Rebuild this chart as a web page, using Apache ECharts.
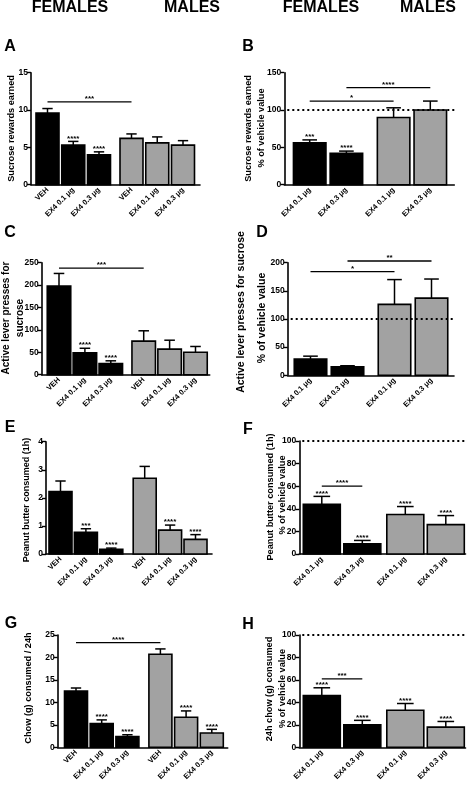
<!DOCTYPE html>
<html><head><meta charset="utf-8">
<script src="https://cdn.jsdelivr.net/npm/echarts@6/dist/echarts.min.js"></script>
<style>html,body{margin:0;padding:0;background:#fff}#c{width:472px;height:789px}</style>
</head><body><div id="c"></div>
<script>
// ---------- data ----------
const cats6 = ['VEH', 'EX4 0.1 μg', 'EX4 0.3 μg', 'VEH', 'EX4 0.1 μg', 'EX4 0.3 μg'];
const sex6 = ['F', 'F', 'F', 'M', 'M', 'M'];
const cats4 = ['EX4 0.1 μg', 'EX4 0.3 μg', 'EX4 0.1 μg', 'EX4 0.3 μg'];
const sex4 = ['F', 'F', 'M', 'M'];

// A: Sucrose rewards earned
const aMean = [9.6, 5.3, 4.0, 6.2, 5.6, 5.3];
const aErr = [0.6, 0.5, 0.4, 0.6, 0.8, 0.6];
const aStars = ['', '****', '****', '', '', ''];
const aSig = [[0, 3, 11.1, '***']];
const aTicks = [0, 5, 10, 15];

// B: Sucrose rewards % of vehicle
const bMean = [56, 42, 90, 100];
const bErr = [4, 3, 13, 12];
const bStars = ['***', '****', '', ''];
const bSig = [[0, 2, 112, '*'], [1, 3, 130, '****']];
const bTicks = [0, 50, 100, 150];

// C: Active lever presses
const cMean = [198, 49, 25, 75, 57, 50];
const cErr = [28, 10, 6, 23, 20, 13];
const cStars = ['', '****', '****', '', '', ''];
const cSig = [[0, 3, 238, '***']];
const cTicks = [0, 50, 100, 150, 200, 250];

// D: Active lever presses % of vehicle
const dMean = [29, 15, 126, 137];
const dErr = [5, 2, 44, 34];
const dStars = ['', '', '', ''];
const dSig = [[0, 2, 184, '*'], [1, 3, 203, '**']];
const dTicks = [0, 50, 100, 150, 200];

// E: Peanut butter consumed (1h)
const eMean = [2.22, 0.77, 0.17, 2.70, 0.85, 0.52];
const eErr = [0.38, 0.13, 0.04, 0.42, 0.18, 0.17];
const eStars = ['', '***', '****', '', '****', '****'];
const eSig = [];
const eTicks = [0, 1, 2, 3, 4];

// F: Peanut butter % of vehicle
const fMean = [44, 9, 35, 26];
const fErr = [7, 3, 7, 8];
const fStars = ['****', '****', '****', '****'];
const fSig = [[0, 1, 60, '****']];
const fTicks = [0, 20, 40, 60, 80, 100];

// G: Chow consumed / 24h
const gMean = [12.5, 5.3, 2.4, 20.7, 6.7, 3.2];
const gErr = [0.7, 0.8, 0.4, 1.2, 1.4, 0.8];
const gStars = ['', '****', '****', '', '****', '****'];
const gSig = [[0, 3, 23.3, '****']];
const gTicks = [0, 5, 10, 15, 20, 25];

// H: 24h chow % of vehicle
const hMean = [46, 20, 33, 18];
const hErr = [7, 4, 6, 5];
const hStars = ['****', '****', '****', '****'];
const hSig = [[0, 1, 61, '***']];
const hTicks = [0, 20, 40, 60, 80, 100];

// ---------- layout / style ----------
const FONT = '"Liberation Sans", Arial, sans-serif';
const GREY = '#a2a2a2';
const L = {
  A: {left: 31, top: 72.7, width: 169, height: 112, first: 16.5, step: 25.75, gap: 6.75, bw: 23},
  B: {left: 284.3, top: 72.7, width: 170, height: 112, first: 25.4, step: 36.7, gap: 10.5, bw: 32.5},
  C: {left: 41.7, top: 262.7, width: 168, height: 112, first: 17.3, step: 25.9, gap: 7, bw: 23.5},
  D: {left: 287.7, top: 262.7, width: 166.3, height: 112.6, first: 22.8, step: 37, gap: 10, bw: 32.5},
  E: {left: 46, top: 441.7, width: 166, height: 112.3, first: 14.5, step: 25.4, gap: 8, bw: 23},
  F: {left: 299.3, top: 441, width: 166.2, height: 113, first: 22.5, step: 40.5, gap: 2.5, bw: 37},
  G: {left: 57.7, top: 635, width: 170, height: 112.3, first: 18.3, step: 25.7, gap: 7.3, bw: 23},
  H: {left: 299.3, top: 635, width: 166.2, height: 112.3, first: 22.5, step: 40.5, gap: 2.5, bw: 37}
};

const panels = [
  {id: 'A', cats: cats6, sex: sex6, mean: aMean, err: aErr, stars: aStars, sig: aSig, ticks: aTicks, ref: null},
  {id: 'B', cats: cats4, sex: sex4, mean: bMean, err: bErr, stars: bStars, sig: bSig, ticks: bTicks, ref: 100},
  {id: 'C', cats: cats6, sex: sex6, mean: cMean, err: cErr, stars: cStars, sig: cSig, ticks: cTicks, ref: null},
  {id: 'D', cats: cats4, sex: sex4, mean: dMean, err: dErr, stars: dStars, sig: dSig, ticks: dTicks, ref: 100},
  {id: 'E', cats: cats6, sex: sex6, mean: eMean, err: eErr, stars: eStars, sig: eSig, ticks: eTicks, ref: null},
  {id: 'F', cats: cats4, sex: sex4, mean: fMean, err: fErr, stars: fStars, sig: fSig, ticks: fTicks, ref: 100},
  {id: 'G', cats: cats6, sex: sex6, mean: gMean, err: gErr, stars: gStars, sig: gSig, ticks: gTicks, ref: null},
  {id: 'H', cats: cats4, sex: sex4, mean: hMean, err: hErr, stars: hStars, sig: hSig, ticks: hTicks, ref: 100}
];

const grid = [], xAxis = [], yAxis = [], series = [];

panels.forEach((p, i) => {
  const l = L[p.id];
  const gapU = l.gap / l.step;
  const xs = p.cats.map((c, j) => j + (p.sex[j] === 'M' ? gapU : 0));
  const xmin = -l.first / l.step;
  const xmax = (l.width - l.first) / l.step;
  const bwU = l.bw / l.step;
  grid.push({left: l.left, top: l.top, width: l.width, height: l.height, outerBoundsMode: 'none'});
  xAxis.push({
    gridIndex: i, type: 'value', min: xmin, max: xmax,
    axisLine: {show: true, onZero: false, lineStyle: {color: '#000', width: 1.6}},
    axisTick: {show: false}, splitLine: {show: false},
    axisLabel: {
      show: true, customValues: xs, rotate: 45, margin: 4, color: '#000',
      fontSize: 7.5, fontWeight: 'bold', fontFamily: FONT,
      formatter: function (v) {
        let best = -1, bd = 1e9;
        xs.forEach((x, k) => { const d = Math.abs(x - v); if (d < bd) { bd = d; best = k; } });
        return bd < 0.05 ? p.cats[best] : '';
      }
    }
  });
  const t = p.ticks;
  yAxis.push({
    gridIndex: i, type: 'value', min: t[0], max: t[t.length - 1], interval: t[1] - t[0],
    axisLine: {show: true, onZero: false, lineStyle: {color: '#000', width: 1.6}},
    axisTick: {show: true, length: 4, lineStyle: {color: '#000', width: 1.4}},
    axisLabel: {color: '#000', fontSize: 8.5, fontWeight: 'bold', fontFamily: FONT, margin: 3},
    splitLine: {show: false}
  });
  // bars + error bars + stars
  series.push({
    type: 'custom', xAxisIndex: i, yAxisIndex: i, clip: false, z: 2,
    encode: {x: 0, y: 1},
    data: xs.map((x, j) => [x, p.mean[j], p.err[j], p.sex[j] === 'M' ? 1 : 0]),
    renderItem: function (params, api) {
      const x = api.value(0), v = api.value(1), e = api.value(2), male = api.value(3);
      const top = api.coord([x, v]);
      const base = api.coord([x, 0]);
      const et = api.coord([x, v + e]);
      const w = api.size([bwU, 0])[0];
      const cap = w * 0.45;
      const star = p.stars[params.dataIndex];
      const children = [
        {type: 'line', shape: {x1: top[0], y1: top[1], x2: et[0], y2: et[1]}, style: {stroke: '#000', lineWidth: 1.5}},
        {type: 'line', shape: {x1: et[0] - cap / 2, y1: et[1], x2: et[0] + cap / 2, y2: et[1]}, style: {stroke: '#000', lineWidth: 1.5}},
        {type: 'rect', shape: {x: top[0] - w / 2, y: top[1], width: w, height: base[1] - top[1]},
          style: {fill: male ? GREY : '#000', stroke: '#000', lineWidth: 1.6}}
      ];
      if (star) {
        children.push({type: 'text', style: {text: star, x: et[0], y: et[1] - 3,
          textAlign: 'center', align: 'center', textVerticalAlign: 'middle', verticalAlign: 'middle',
          font: 'bold 8px ' + FONT, fill: '#000'}});
      }
      return {type: 'group', children: children};
    }
  });
  // significance lines
  if (p.sig.length) {
    series.push({
      type: 'custom', xAxisIndex: i, yAxisIndex: i, clip: false, z: 3,
      encode: {x: [0, 1], y: 2},
      data: p.sig.map(s => [xs[s[0]], xs[s[1]], s[2]]),
      renderItem: function (params, api) {
        const a = api.coord([api.value(0), api.value(2)]);
        const b = api.coord([api.value(1), api.value(2)]);
        const txt = p.sig[params.dataIndex][3];
        return {type: 'group', children: [
          {type: 'line', shape: {x1: a[0], y1: a[1], x2: b[0], y2: b[1]}, style: {stroke: '#000', lineWidth: 1.3}},
          {type: 'text', style: {text: txt, x: (a[0] + b[0]) / 2, y: a[1] - 3,
            textAlign: 'center', align: 'center', textVerticalAlign: 'middle', verticalAlign: 'middle',
            font: 'bold 8px ' + FONT, fill: '#000'}}
        ]};
      }
    });
  }
  // dotted reference line
  if (p.ref !== null) {
    series.push({
      type: 'custom', xAxisIndex: i, yAxisIndex: i, clip: false, z: 4,
      encode: {x: 0, y: 1},
      data: [[xmin, p.ref]],
      renderItem: function (params, api) {
        const c = api.coord([api.value(0), api.value(1)]);
        const cs = params.coordSys;
        return {type: 'line', shape: {x1: cs.x + 3, y1: c[1], x2: cs.x + cs.width, y2: c[1]},
          style: {stroke: '#000', lineWidth: 2, lineDash: [2, 3]}};
      }
    });
  }
});

// ---------- text ----------
const headers = [
  ['FEMALES', 70, 8], ['MALES', 192, 8], ['FEMALES', 321, 8], ['MALES', 428, 8]
];
const letters = [
  ['A', 10, 47], ['B', 248, 47], ['C', 10, 232.5], ['D', 262, 233],
  ['E', 10, 428], ['F', 248, 430], ['G', 11, 624], ['H', 248, 625]
];
const yTitles = [
  ['Sucrose rewards earned', 11, 128.5, 9.2],
  ['Sucrose rewards earned', 248, 128.5, 9.2], ['% of vehicle value', 261, 128, 9.2],
  ['Active lever presses for', 6, 318, 10], ['sucrose', 20, 318, 10],
  ['Active lever presses for sucrose', 241, 312, 10.5], ['% of vehicle value', 262, 318, 10.5],
  ['Peanut butter consumed (1h)', 27, 500, 9],
  ['Peanut butter consumed (1h)', 270, 497, 9.2], ['% of vehicle value', 282, 495, 9.2],
  ['Chow (g) consumed / 24h', 28, 688, 9.2],
  ['24h chow (g) consumed', 269.5, 689, 9.2], ['% of vehicle value', 282.5, 688.5, 9.2]
];
const graphic = [];
headers.forEach(h => graphic.push({type: 'text', x: h[1], y: h[2],
  style: {text: h[0], font: 'bold 16px ' + FONT, fill: '#000', textAlign: 'center', textVerticalAlign: 'middle'}}));
letters.forEach(h => graphic.push({type: 'text', x: h[1], y: h[2],
  style: {text: h[0], font: 'bold 16px ' + FONT, fill: '#000', textAlign: 'center', textVerticalAlign: 'middle'}}));
yTitles.forEach(h => graphic.push({type: 'text', x: h[1], y: h[2], rotation: Math.PI / 2,
  style: {text: h[0], font: 'bold ' + h[3] + 'px ' + FONT, fill: '#000', textAlign: 'center', textVerticalAlign: 'middle'}}));

const chart = echarts.init(document.getElementById('c'), null, {renderer: 'canvas'});
chart.setOption({
  animation: false,
  backgroundColor: '#fff',
  grid: grid, xAxis: xAxis, yAxis: yAxis, series: series, graphic: graphic
});
</script>
</body></html>
